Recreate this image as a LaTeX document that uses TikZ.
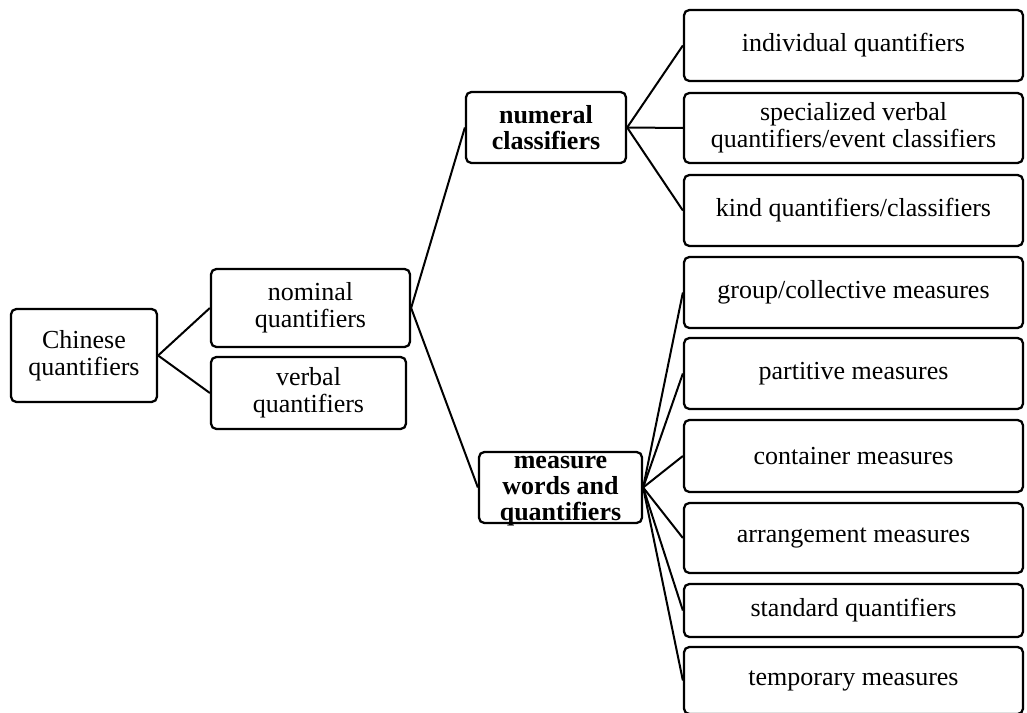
\documentclass[tikz,border=0pt]{standalone}
\usepackage{fontspec}
\setmainfont{Liberation Serif}
\usepackage{tikz}

\begin{document}
\begin{tikzpicture}[x=0.75pt,y=-0.75pt,line width=1.5pt,
  box/.style={draw,line width=1.7pt,rounded corners=4pt,align=center,inner sep=0pt,
    font=\fontsize{19.5}{20}\selectfont},
  leaf/.style={box,minimum width=254.25pt,minimum height=53.25pt}]
  \useasboundingbox (0,0) rectangle (1027,713);
  % left part
  \node[box,minimum width=109.5pt,minimum height=69.75pt] (chin) at (84,355.5) {Chinese\\quantifiers};
  \node[box,minimum width=149.25pt,minimum height=58.5pt] (nomq) at (310.5,308) {nominal\\quantifiers};
  \node[box,minimum width=146.25pt,minimum height=54pt] (verq) at (308.5,393) {verbal\\quantifiers};
  \node[box,minimum width=120pt,minimum height=53.25pt,font=\fontsize{19.5}{20}\selectfont\bfseries] (numc) at (546,127.5) {numeral\\classifiers};
  \node[box,minimum width=122.25pt,minimum height=53.25pt,text height=51pt,text depth=1pt,font=\fontsize{19.5}{19.5}\selectfont\bfseries] (meas) at (560.5,487.5) {measure\\words and\\quantifiers};
  % right column
  \node[leaf] (indq) at (853.5,45.5) {individual quantifiers};
  \node[leaf,minimum height=52.5pt] (spec) at (853.5,128) {specialized verbal\\quantifiers/event classifiers};
  \node[leaf] (kind) at (853.5,210.5) {kind quantifiers/classifiers};
  \node[leaf] (grpm) at (853.5,292.5) {group/collective measures};
  \node[leaf] (partm) at (853.5,373.5) {partitive measures};
  \node[leaf,minimum height=54pt] (contm) at (853.5,456) {container measures};
  \node[leaf,minimum height=52.5pt] (arrm) at (853.5,538) {arrangement measures};
  \node[leaf,minimum height=39.75pt] (stdq) at (853.5,610.5) {standard quantifiers};
  \node[leaf,minimum height=50.25pt] (tmpm) at (853.5,680.5) {temporary measures};
  % connectors
  \draw (chin.east) -- (nomq.west);
  \draw (chin.east) -- (verq.west);
  \draw (nomq.east) -- (numc.west);
  \draw (nomq.east) -- (meas.west);
  \foreach \c in {indq,spec,kind}
    \draw (numc.east) -- (\c.west);
  \foreach \c in {grpm,partm,contm,arrm,stdq,tmpm}
    \draw (meas.east) -- (\c.west);
\end{tikzpicture}
\end{document}
